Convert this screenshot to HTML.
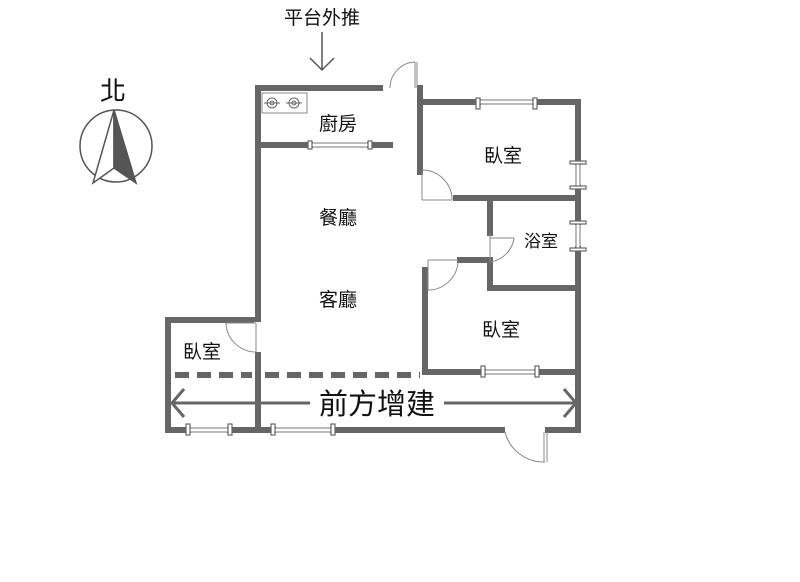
<!DOCTYPE html>
<html><head><meta charset="utf-8"><style>
body{margin:0;background:#fff;}
text{font-family:"Liberation Sans","Noto Sans CJK TC",sans-serif;fill:#111;}
</style></head><body>
<svg width="800" height="577" viewBox="0 0 800 577" xmlns="http://www.w3.org/2000/svg">
<g stroke="#666" stroke-width="6" fill="none" stroke-linecap="square">
<path d="M258 88 H380"/>
<path d="M258 88 V430"/>
<path d="M420 88 V172"/>
<path d="M258 145 H310 M370 145 H390"/>
<path d="M420 102 H478 M535 102 H578 V162 M578 188 V222 M578 249 V430"/>
<path d="M456 198 H578"/>
<path d="M490 198 V233 M490 262 V288 H578"/>
<path d="M460 260 H490"/>
<path d="M425 270 V372 H483 M537 372 H578"/>
<path d="M168 320 H258 M168 320 V430 H188 M230 430 H273 M333 430 H502 M548 430 H578"/>
</g>
<path d="M258 322 V352" stroke="#fff" stroke-width="8"/>
<path d="M175 375 H252 M265 375 H420" stroke="#666" stroke-width="6" stroke-dasharray="14,8"/>
<g stroke="#777" stroke-width="1" fill="#fff">
<rect x="310" y="143" width="60" height="4"/>
<rect x="478" y="100" width="57" height="4"/>
<rect x="188" y="428" width="42" height="4"/>
<rect x="273" y="428" width="60" height="4"/>
<rect x="483" y="370" width="54" height="4"/>
<rect x="576" y="162" width="4" height="26"/>
<rect x="576" y="222" width="4" height="27"/>
</g>
<g fill="#fff" stroke="#666" stroke-width="1.2">
<rect x="308" y="141" width="4" height="8"/><rect x="368" y="141" width="4" height="8"/>
<rect x="476" y="98" width="4" height="11"/><rect x="533" y="98" width="4" height="11"/>
<rect x="186" y="424" width="4" height="11"/><rect x="228" y="424" width="4" height="11"/>
<rect x="271" y="424" width="4" height="11"/><rect x="331" y="424" width="4" height="11"/>
<rect x="481" y="366" width="4" height="11"/><rect x="535" y="366" width="4" height="11"/>
<rect x="570" y="161" width="16" height="3"/><rect x="570" y="186" width="16" height="3"/>
<rect x="570" y="221" width="16" height="3"/><rect x="570" y="248" width="16" height="3"/>
</g>
<g stroke="#888" stroke-width="1" fill="none">
<path d="M417 88 V62 M415 62 V88 M390 88 A26 26 0 0 1 415 62"/>
<path d="M422 172 V200 M452 200 A30 30 0 0 0 422 170 M422 200 H452"/>
<path d="M490 233 V262 M490 262 A28 28 0 0 0 514 238 M490 238 H514"/>
<path d="M428 260 V290 M428 290 A30 30 0 0 0 458 262 M428 260 H458"/>
<path d="M256 323 V352 M256 352 A30 30 0 0 1 226 323 M226 323 H256"/>
<path d="M544 432 V462 M547 432 V462 M505 432 A40 40 0 0 0 545 462"/>
</g>
<rect x="262" y="93" width="45" height="20" fill="#fff" stroke="#888"/>
<g stroke="#666" fill="none" stroke-width="1">
<circle cx="272" cy="103" r="5"/><circle cx="272" cy="103" r="2"/>
<circle cx="294" cy="103" r="5"/><circle cx="294" cy="103" r="2"/>
<path d="M264 103 H280 M286 103 H302"/>
</g>
<g stroke="#666" stroke-width="3" fill="none">
<path d="M172 403 H310 M444 403 H574"/>
<path d="M184 389 L172 403 L184 417 M564 389 L576 403 L564 417"/>
</g>
<g stroke="#555" stroke-width="1.5" fill="none">
<path d="M322 32 V70 M310 58 L322 70 L334 58"/>
</g>
<circle cx="116" cy="146" r="36" fill="none" stroke="#555" stroke-width="1.5"/>
<path d="M114 110 L93 183 L114 168 Z" fill="#fff" stroke="#555" stroke-width="1.5"/>
<path d="M114 110 L136 183 L114 168 Z" fill="#555" stroke="#555" stroke-width="1.5"/>
<text x="113" y="100" font-size="26" text-anchor="middle">北</text>
<text x="322" y="24" font-size="19" text-anchor="middle">平台外推</text>
<text x="338" y="130" font-size="19" text-anchor="middle">廚房</text>
<text x="503" y="162" font-size="19" text-anchor="middle">臥室</text>
<text x="541" y="247" font-size="17" text-anchor="middle">浴室</text>
<text x="338" y="224" font-size="19" text-anchor="middle">餐廳</text>
<text x="338" y="306" font-size="19" text-anchor="middle">客廳</text>
<text x="501" y="336" font-size="19" text-anchor="middle">臥室</text>
<text x="202" y="358" font-size="19" text-anchor="middle">臥室</text>
<text x="377" y="414" font-size="29" text-anchor="middle">前方增建</text>
</svg>
</body></html>
